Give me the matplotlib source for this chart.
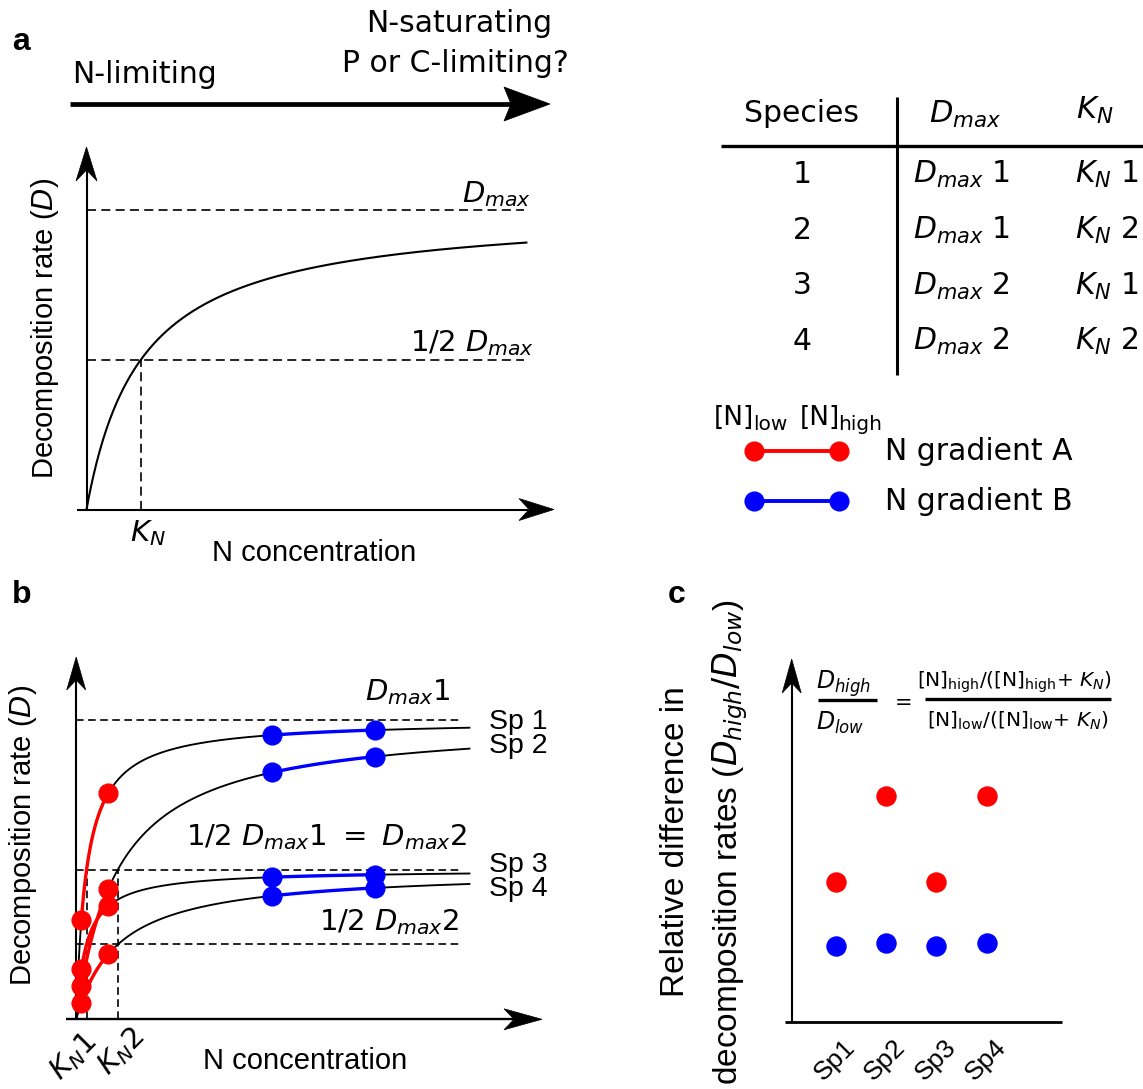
import numpy as np
import matplotlib
matplotlib.use("Agg")
import matplotlib.pyplot as plt
from matplotlib.patches import Polygon

W, H = 1143, 1089
plt.rcParams['mathtext.fontset'] = 'dejavusans'
plt.rcParams['lines.scale_dashes'] = False
plt.rcParams['lines.solid_capstyle'] = 'butt'
plt.rcParams['lines.dash_capstyle'] = 'butt'

VER = 'DejaVu Sans'
ARI = 'Liberation Sans'
RED = '#ff0000'
BLUE = '#0000ff'

# ---------------- data ----------------
# panel a: one Michaelis-Menten curve D = Dmax*N/(N+K)
a_Dmax = 1.0
a_K = 1.0
a_N_end = 8.09

# panel b: four species
b_species = ['Sp 1', 'Sp 2', 'Sp 3', 'Sp 4']
b_Dmax = [1.0, 1.0, 0.5, 0.5]
b_K = [0.5, 2.0, 0.5, 2.0]
grad_A = [0.25, 1.55]     # [N]low, [N]high of gradient A
grad_B = [9.42, 14.35]    # [N]low, [N]high of gradient B
b_N_end = 18.95

# panel c: relative differences
c_labels = ['Sp1', 'Sp2', 'Sp3', 'Sp4']
c_red = [2.27, 3.93, 2.27, 3.93]
c_blue = [1.05, 1.11, 1.05, 1.11]

# table
tab_species = ['1', '2', '3', '4']
tab_dmax = ['1', '1', '2', '2']
tab_kn = ['1', '2', '1', '2']

# ---------------- figure ----------------
fig = plt.figure(figsize=(W / 100, H / 100), dpi=100)

ov = fig.add_axes([0, 0, 1, 1], zorder=0)
ov.set_xlim(0, W)
ov.set_ylim(H, 0)
ov.axis('off')


def add_panel(origin, ux, uy, box):
    left, right, top, bottom = box
    ax = fig.add_axes([left / W, 1 - bottom / H, (right - left) / W, (bottom - top) / H], zorder=1)
    ax.set_xlim((left - origin[0]) / ux, (right - origin[0]) / ux)
    ax.set_ylim((origin[1] - bottom) / uy, (origin[1] - top) / uy)
    ax.axis('off')
    ax.patch.set_alpha(0)
    return ax


def stealth(tip, direction, L, w, n, **kw):
    tx, ty = tip
    dx, dy = direction
    px, py = -dy, dx
    pts = [(tx, ty),
           (tx - L * dx + w * px, ty - L * dy + w * py),
           (tx - (L - n) * dx, ty - (L - n) * dy),
           (tx - L * dx - w * px, ty - L * dy - w * py)]
    ov.add_patch(Polygon(pts, closed=True, facecolor='black', edgecolor='black', lw=0.5, **kw))


def mm(N, Dmax, K):
    return Dmax * N / (N + K)


FS = 21.5  # general DejaVu text size

# ================= panel a =================
ov.text(12, 50, 'a', fontsize=23, fontweight='bold', family=ARI, va='baseline')
ov.text(72, 83, 'N-limiting', fontsize=FS, family=VER, va='baseline')
ov.text(552, 31.5, 'N-saturating', fontsize=FS, family=VER, va='baseline', ha='right')
ov.text(569, 72.5, 'P or C-limiting?', fontsize=FS, family=VER, va='baseline', ha='right')
ov.plot([70, 512], [104, 104], color='black', lw=3.4)
stealth((550, 104), (1, 0), 46, 17, 7)

oa = (86.5, 509.5)
ax_a = add_panel(oa, 54.5, 300.0, (60, 570, 140, 525))
Na = np.linspace(0, a_N_end, 400)
ax_a.plot(Na, mm(Na, a_Dmax, a_K), color='black', lw=1.5, clip_on=False)
xd_end = (524 - oa[0]) / 54.5
dash_a = (0, (6.5, 3.8))
ax_a.plot([0, xd_end], [a_Dmax, a_Dmax], color='black', lw=1.2, ls=dash_a)
ax_a.plot([0, xd_end], [a_Dmax / 2, a_Dmax / 2], color='black', lw=1.2, ls=dash_a)
ax_a.plot([a_K, a_K], [0, a_Dmax / 2], color='black', lw=1.2, ls=dash_a)

ov.plot([oa[0], oa[0]], [oa[1], 170], color='black', lw=1.5)
stealth((oa[0], 147), (0, -1), 34, 10.5, 11)
ov.plot([76.5, 528], [oa[1], oa[1]], color='black', lw=1.5)
stealth((554, oa[1]), (1, 0), 35, 11, 10)

ov.text(497, 202.5, r'$D_{max}$', fontsize=21, ha='center', va='baseline')
ov.text(534, 351, r'1/2 $D_{max}$', fontsize=21, family=VER, ha='right', va='baseline')
ov.text(148, 541.5, r'$K_N$', fontsize=21, ha='center', va='baseline')
ov.text(314, 561, 'N concentration', fontsize=21, family=ARI, ha='center', va='baseline')
ov.text(45, 328, r'Decomposition rate ($D$)', fontsize=21, family=ARI, rotation=90,
        ha='center', va='center', rotation_mode='anchor')

# ================= table =================
ov.text(802, 122.5, 'Species', fontsize=FS, family=VER, ha='center', va='baseline')
ov.text(965, 123, r'$D_{max}$', fontsize=22, ha='center', va='baseline')
ov.text(1095, 119, r'$K_N$', fontsize=22, ha='center', va='baseline')
ov.plot([721, 1143], [146, 146], color='black', lw=2.4)
ov.plot([897, 897], [97, 375], color='black', lw=2.2)
row_base = [183, 239, 294.5, 350]
for i in range(4):
    ov.text(802, row_base[i], tab_species[i], fontsize=FS, family=VER, ha='center', va='baseline')
    ov.text(913, row_base[i], r'$D_{max}$' + ' ' + tab_dmax[i], fontsize=FS, family=VER,
            ha='left', va='baseline')
    ov.text(1075, row_base[i], r'$K_N$' + ' ' + tab_kn[i], fontsize=FS, family=VER,
            ha='left', va='baseline')

# ================= legend =================
ov.text(714, 425, '[N]', fontsize=19, family=VER, va='baseline')
ov.text(753, 430, 'low', fontsize=14.5, family=VER, va='baseline')
ov.text(800, 425, '[N]', fontsize=19, family=VER, va='baseline')
ov.text(838, 430, 'high', fontsize=14.5, family=VER, va='baseline')
for yy, col, lab in [(451, RED, 'N gradient A'), (501, BLUE, 'N gradient B')]:
    ov.plot([754, 839], [yy, yy], color=col, lw=2.8, marker='o', ms=13.5, mec=col, mfc=col)
    ov.text(885, yy + 9.5, lab, fontsize=FS, family=VER, va='baseline')

# ================= panel b =================
ov.text(12, 603, 'b', fontsize=23, fontweight='bold', family=ARI, va='baseline')
ob = (76.2, 1019.3)
ux_b, uy_b = 20.8, 299.3
ax_b = add_panel(ob, ux_b, uy_b, (55, 550, 650, 1030))
dash_b = (0, (5.5, 3.2))
xd_b = (461 - ob[0]) / ux_b
for lev in [1.0, 0.5, 0.25]:
    ax_b.plot([0, xd_b], [lev, lev], color='black', lw=1.2, ls=dash_b)
for k in sorted(set(b_K)):
    ax_b.plot([k, k], [0, 0.5], color='black', lw=1.2, ls=dash_b)

Nb = np.linspace(0, b_N_end, 800)
for i in range(4):
    ax_b.plot(Nb, mm(Nb, b_Dmax[i], b_K[i]), color='black', lw=1.35, clip_on=False)
for i in range(4):
    NA = np.linspace(grad_A[0], grad_A[1], 100)
    ax_b.plot(NA, mm(NA, b_Dmax[i], b_K[i]), color=RED, lw=2.4, clip_on=False, zorder=3)
    ax_b.plot(grad_A, [mm(n, b_Dmax[i], b_K[i]) for n in grad_A], ls='none', marker='o',
              ms=13.5, color=RED, clip_on=False, zorder=4)
    NB = np.linspace(grad_B[0], grad_B[1], 100)
    ax_b.plot(NB, mm(NB, b_Dmax[i], b_K[i]), color=BLUE, lw=2.4, clip_on=False, zorder=3)
    ax_b.plot(grad_B, [mm(n, b_Dmax[i], b_K[i]) for n in grad_B], ls='none', marker='o',
              ms=13.5, color=BLUE, clip_on=False, zorder=4)

ov.plot([ob[0], ob[0]], [ob[1], 680], color='black', lw=1.5)
stealth((ob[0], 657), (0, -1), 33, 9.5, 10)
ov.plot([66, 514], [ob[1], ob[1]], color='black', lw=1.7)
stealth((542, ob[1]), (1, 0), 38, 10.5, 10)

sp_base = [729, 753, 872, 895.5]
for i in range(4):
    ov.text(489, sp_base[i], b_species[i], fontsize=20.5, family=ARI, va='baseline')
ov.text(408, 700.5, r'$D_{max}1$', fontsize=21, ha='center', va='baseline')
ov.text(326.5, 845, r'1/2 $D_{max}1\ =\ D_{max}2$', fontsize=21, family=VER,
        ha='center', va='baseline')
ov.text(389, 930, r'1/2 $D_{max}2$', fontsize=21, family=VER, ha='center', va='baseline')
ov.text(73, 1057, r'$K_N1$', fontsize=21, rotation=45, ha='center', va='center',
        rotation_mode='anchor')
ov.text(121, 1052, r'$K_N2$', fontsize=21, rotation=45, ha='center', va='center',
        rotation_mode='anchor')
ov.text(305, 1069, 'N concentration', fontsize=21, family=ARI, ha='center', va='baseline')
ov.text(23, 835, r'Decomposition rate ($D$)', fontsize=21, family=ARI, rotation=90,
        ha='center', va='center', rotation_mode='anchor')

# ================= panel c =================
ov.text(668, 603, 'c', fontsize=23, fontweight='bold', family=ARI, va='baseline')
oc_x0, uxc = 785.8, 50.2
oc_y0, uyc = 1000.3, 52.0
ax_c = add_panel((oc_x0, oc_y0), uxc, uyc, (775, 1075, 650, 1089))
xc = np.arange(1, len(c_labels) + 1)
ax_c.plot(xc, c_red, ls='none', marker='o', ms=13.7, color=RED, clip_on=False)
ax_c.plot(xc, c_blue, ls='none', marker='o', ms=13.7, color=BLUE, clip_on=False)
lab_y = (oc_y0 - 1060) / uyc
for i, lab in enumerate(c_labels):
    ax_c.text(xc[i] - 1 / uxc, lab_y, lab, fontsize=19, family=ARI, rotation=45,
              ha='center', va='center', rotation_mode='anchor', clip_on=False)

ov.plot([791.7, 791.7], [1021.7, 683], color='black', lw=1.5)
stealth((791.7, 659), (0, -1), 34, 9.5, 10)
ov.plot([785, 1062], [1021.7, 1021.7], color='black', lw=2.0)

ov.text(675, 842, 'Relative difference in', fontsize=24, family=ARI, rotation=90,
        ha='center', va='center', rotation_mode='anchor')
ov.text(730, 842, r'decomposition rates ($D_{high}/D_{low}$)', fontsize=24, family=ARI,
        rotation=90, ha='center', va='center', rotation_mode='anchor')

ov.text(816, 689, r'$D_{high}$', fontsize=17, ha='left', va='baseline')
ov.plot([818, 877], [700, 700], color='black', lw=2.4)
ov.text(816, 730, r'$D_{low}$', fontsize=17, ha='left', va='baseline')
ov.text(904, 709, '=', fontsize=15, family=VER, ha='center', va='baseline')
ov.text(917, 686.5, r'[N]$_{\mathrm{high}}$/([N]$_{\mathrm{high}}$+ $K_N$)', fontsize=14.5,
        family=VER, ha='left', va='baseline')
ov.plot([925, 1111], [699, 699], color='black', lw=2.4)
ov.text(927, 726.5, r'[N]$_{\mathrm{low}}$/([N]$_{\mathrm{low}}$+ $K_N$)', fontsize=14.5,
        family=VER, ha='left', va='baseline')

fig.savefig('out.png', dpi=100)
